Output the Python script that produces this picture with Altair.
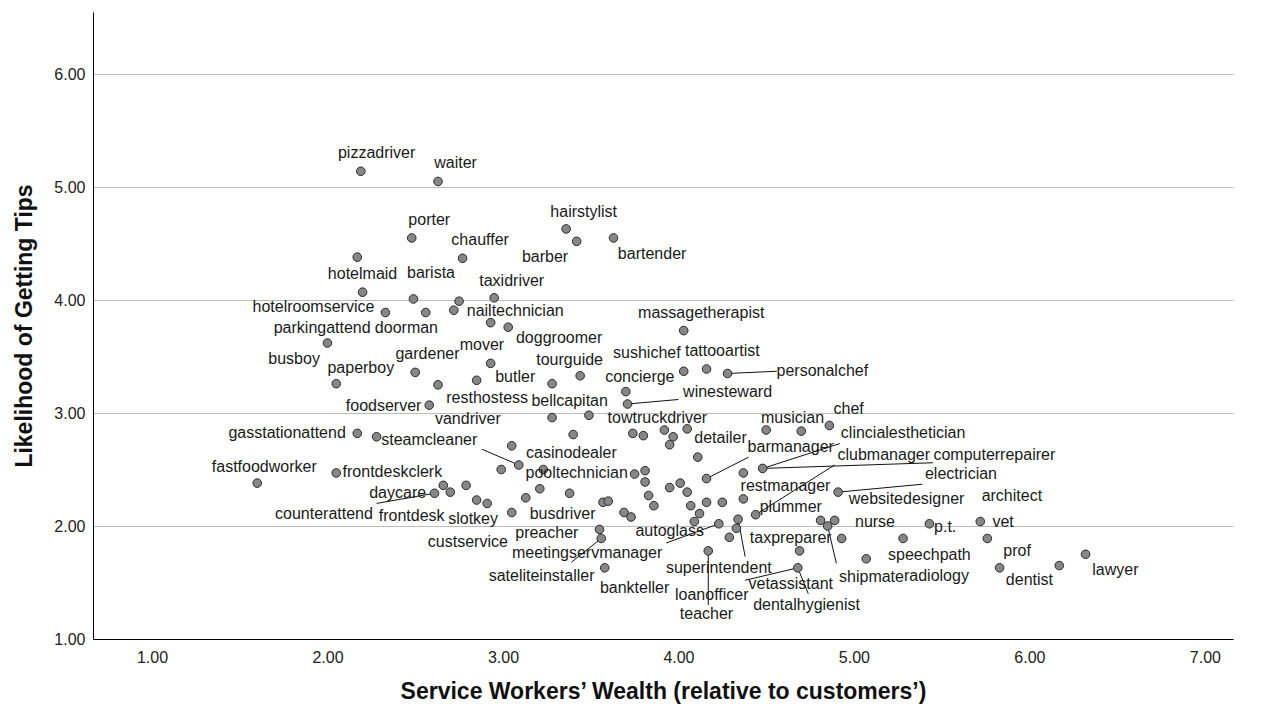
import altair as alt
import pandas as pd

# ---- point coordinates (wealth, tips) ----
pt_x = [2.19, 2.63, 2.48, 2.77, 2.17, 2.20, 2.49, 2.56, 2.33, 2.72, 2.75, 2.95, 2.93, 3.03,
        3.36, 3.42, 3.63, 4.03, 4.03, 4.16, 4.28, 3.44, 3.28, 2.00, 2.93, 2.50, 2.05, 2.63,
        2.85, 2.58, 2.17, 2.28, 3.05, 2.99, 3.09, 1.60, 2.05, 2.66, 2.79, 2.61, 2.70, 2.85,
        2.91, 3.05, 3.13, 3.70, 3.71, 3.28, 3.49, 3.40, 3.74, 3.80, 3.92, 3.97, 4.05, 3.95,
        4.11, 3.23, 3.75, 3.81, 3.81, 4.16, 4.37, 3.21, 3.38, 3.95, 4.01, 4.05, 3.83, 3.86,
        4.07, 4.16, 4.25, 4.37, 4.12, 3.57, 3.60, 3.69, 3.73, 3.55, 3.56, 3.58, 4.09, 4.23,
        4.34, 4.29, 4.17, 4.44, 4.50, 4.70, 4.86, 4.48, 4.91, 4.81, 4.89, 4.85, 4.93, 5.43,
        5.28, 5.72, 5.76, 5.07, 5.83, 4.69, 4.68, 6.17, 6.32, 4.33]
pt_y = [5.14, 5.05, 4.55, 4.37, 4.38, 4.07, 4.01, 3.89, 3.89, 3.91, 3.99, 4.02, 3.80, 3.76,
        4.63, 4.52, 4.55, 3.73, 3.37, 3.39, 3.35, 3.33, 3.26, 3.62, 3.44, 3.36, 3.26, 3.25,
        3.29, 3.07, 2.82, 2.79, 2.71, 2.50, 2.54, 2.38, 2.47, 2.36, 2.36, 2.29, 2.30, 2.23,
        2.20, 2.12, 2.25, 3.19, 3.08, 2.96, 2.98, 2.81, 2.82, 2.80, 2.85, 2.79, 2.86, 2.72,
        2.61, 2.50, 2.46, 2.49, 2.39, 2.42, 2.47, 2.33, 2.29, 2.34, 2.38, 2.30, 2.27, 2.18,
        2.18, 2.21, 2.21, 2.24, 2.11, 2.21, 2.22, 2.12, 2.08, 1.97, 1.89, 1.63, 2.04, 2.02,
        2.06, 1.90, 1.78, 2.10, 2.85, 2.84, 2.89, 2.51, 2.30, 2.05, 2.05, 2.00, 1.89, 2.02,
        1.89, 2.04, 1.89, 1.71, 1.63, 1.78, 1.63, 1.65, 1.75, 1.98]

# ---- occupation labels and where they sit ----
lbl_text = ["pizzadriver", "waiter", "porter", "chauffer", "hairstylist", "barber", "bartender",
            "hotelmaid", "barista", "taxidriver", "hotelroomservice", "nailtechnician",
            "parkingattend", "doorman", "massagetherapist", "doggroomer", "busboy", "paperboy",
            "gardener", "mover", "tourguide", "sushichef", "tattooartist", "concierge",
            "personalchef", "butler", "resthostess", "bellcapitan", "winesteward", "foodserver",
            "vandriver", "towtruckdriver", "musician", "chef", "gasstationattend", "steamcleaner",
            "detailer", "casinodealer", "clincialesthetician", "barmanager", "fastfoodworker",
            "frontdeskclerk", "pooltechnician", "clubmanager", "computerrepairer", "electrician",
            "daycare", "restmanager", "websitedesigner", "architect", "counterattend", "frontdesk",
            "slotkey", "busdriver", "plummer", "preacher", "autoglass", "nurse", "p.t.", "vet",
            "custservice", "meetingservmanager", "taxpreparer", "speechpath", "prof",
            "sateliteinstaller", "superintendent", "vetassistant", "shipmate", "radiology",
            "dentist", "lawyer", "bankteller", "loanofficer", "dentalhygienist", "teacher"]
lbl_x = [2.28, 2.73, 2.58, 2.87, 3.46, 3.24, 3.85,
         2.20, 2.59, 3.05, 1.92, 3.07,
         1.97, 2.45, 4.13, 3.32, 1.81, 2.19,
         2.57, 2.88, 3.38, 3.82, 4.25, 3.78,
         4.82, 3.07, 2.91, 3.38, 4.28, 2.32,
         2.80, 3.88, 4.65, 4.97, 1.77, 2.58,
         4.24, 3.39, 5.28, 4.64, 1.64,
         2.37, 3.42, 5.17, 5.80, 5.61,
         2.40, 4.61, 5.30, 5.90, 1.98, 2.48,
         2.83, 3.34, 4.64, 3.25, 3.95, 5.12, 5.52, 5.85,
         2.80, 3.48, 4.64, 5.43, 5.93,
         3.22, 4.23, 4.64, 5.10, 5.47,
         6.00, 6.49, 3.75, 4.19, 4.73, 4.16]
lbl_y = [5.30, 5.21, 4.71, 4.53, 4.78, 4.38, 4.41,
         4.23, 4.24, 4.17, 3.94, 3.90,
         3.75, 3.75, 3.89, 3.66, 3.48, 3.40,
         3.52, 3.60, 3.47, 3.53, 3.55, 3.32,
         3.37, 3.32, 3.13, 3.11, 3.19, 3.06,
         2.95, 2.96, 2.96, 3.04, 2.82, 2.76,
         2.78, 2.65, 2.82, 2.70, 2.52,
         2.48, 2.47, 2.63, 2.63, 2.46,
         2.29, 2.35, 2.24, 2.27, 2.11, 2.09,
         2.06, 2.11, 2.17, 1.94, 1.96, 2.04, 1.99, 2.04,
         1.86, 1.76, 1.89, 1.74, 1.78,
         1.56, 1.63, 1.49, 1.55, 1.56,
         1.52, 1.61, 1.45, 1.39, 1.30, 1.22]

# ---- leader lines (start, end) ----
ld_x1 = [4.28, 3.71, 2.88, 2.28, 4.40, 4.48, 4.48, 4.89, 4.91, 3.39, 3.93, 4.38, 4.17, 4.38, 4.68, 4.85]
ld_y1 = [3.35, 3.08, 2.68, 2.20, 2.61, 2.51, 2.51, 2.54, 2.30, 1.68, 1.85, 1.73, 1.78, 1.52, 1.63, 2.00]
ld_x2 = [4.56, 4.00, 3.09, 2.61, 4.16, 4.92, 5.45, 4.44, 5.39, 3.56, 4.23, 4.34, 4.17, 4.68, 4.74, 4.90]
ld_y2 = [3.37, 3.12, 2.54, 2.29, 2.42, 2.73, 2.56, 2.10, 2.37, 1.89, 2.02, 2.06, 1.30, 1.63, 1.40, 1.67]

X_TICKS = [1, 2, 3, 4, 5, 6, 7]
Y_TICKS = [1, 2, 3, 4, 5, 6]

pts = pd.DataFrame({"x": pt_x, "y": pt_y})
lbls = pd.DataFrame({"x": lbl_x, "y": lbl_y, "name": lbl_text})
leads = pd.DataFrame({"x": ld_x1, "y": ld_y1, "x2": ld_x2, "y2": ld_y2})

xs = alt.Scale(domain=[0.664, 7.16], nice=False, zero=False)
ys = alt.Scale(domain=[1.0, 6.55], nice=False, zero=False)

x_axis = alt.Axis(values=X_TICKS, format=".2f", grid=False, ticks=False,
                  labelPadding=10, titlePadding=15,
                  title="Service Workers’ Wealth (relative to customers’)")
y_axis = alt.Axis(values=Y_TICKS, format=".2f", grid=True, ticks=False,
                  labelPadding=8, titlePadding=17,
                  gridColor="#bdbdbd", gridWidth=1,
                  title="Likelihood of Getting Tips")

X = alt.X("x:Q", scale=xs, axis=x_axis)
Y = alt.Y("y:Q", scale=ys, axis=y_axis)

rules = alt.Chart(leads).mark_rule(color="#111111", strokeWidth=1).encode(
    x=X, y=Y, x2="x2:Q", y2="y2:Q")

points = alt.Chart(pts).mark_circle(size=74, fill="#878787", stroke="#2a2a2a",
                                    strokeWidth=1, opacity=1).encode(x=X, y=Y)

texts = alt.Chart(lbls).mark_text(align="center", baseline="middle", fontSize=16,
                                  font="Arial, Liberation Sans", color="#1a1a1a").encode(
    x=X, y=Y, text="name:N")

chart = alt.layer(rules, points, texts).properties(
    width=1140, height=627,
    autosize=alt.AutoSizeParams(type="none"),
    padding={"left": 93, "top": 12, "right": 28, "bottom": 72},
    background="white",
).configure_view(stroke=None).configure_axis(
    labelFont="Arial, Liberation Sans", labelFontSize=16, labelColor="#222222",
    titleFont="Arial, Liberation Sans", titleFontSize=23, titleFontWeight="bold",
    titleColor="#111111", domainColor="#000000", domainWidth=1,
)

chart.save("out.html", embed_options={"renderer": "svg", "actions": False})
